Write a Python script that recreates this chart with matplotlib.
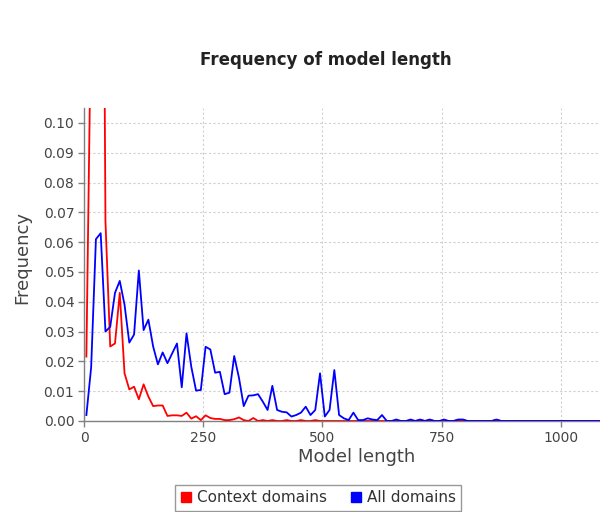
import numpy as np
import matplotlib
matplotlib.use("Agg")
import matplotlib.pyplot as plt
from matplotlib.lines import Line2D

# histogram bins of width 10, plotted at the bin centres
bin_width = 10
n_bins = 115

# frequency per bin, "Context domains"
context_freq = [
    0.0216, 0.14, 0.22, 0.33, 0.067, 0.025, 0.026, 0.043, 0.016, 0.0106,
    0.0115, 0.0073, 0.0123, 0.0082, 0.005, 0.0052, 0.0052, 0.0017, 0.0019, 0.0019,
    0.0017, 0.0028, 0.0008, 0.0016, 0.0003, 0.0019, 0.001, 0.0007, 0.0007, 0.0003,
    0.0003, 0.0006, 0.0012, 0.0003, 0.0, 0.001, 0.0, 0.0003, 0.0, 0.0003,
    0.0, 0.0, 0.0003, 0.0, 0.0, 0.0003, 0.0, 0.0, 0.0003, 0.0,
    0.0, 0.0, 0.0, 0.0, 0.0, 0.0, 0.0, 0.0, 0.0, 0.0,
    0.0, 0.0, 0.0, 0.0, 0.0, 0.0, 0.0, 0.0, 0.0, 0.0,
    0.0003, 0.0, 0.0003, 0.0, 0.0, 0.0, 0.0, 0.0, 0.0003, 0.0,
    0.0, 0.0, 0.0, 0.0, 0.0, 0.0, 0.0003,
]

# frequency per bin, "All domains"
all_freq = [
    0.002, 0.018, 0.061, 0.063, 0.030, 0.0316, 0.043, 0.047, 0.039, 0.0263,
    0.029, 0.0505, 0.0305, 0.034, 0.025, 0.019, 0.023, 0.0194, 0.0227, 0.026,
    0.0113, 0.0294, 0.0182, 0.0102, 0.0104, 0.0249, 0.024, 0.0162, 0.0165, 0.009,
    0.0095, 0.0218, 0.0145, 0.005, 0.0085, 0.0086, 0.009, 0.0065, 0.0037, 0.0118,
    0.0037, 0.0031, 0.0029, 0.0015, 0.002, 0.0028, 0.0048, 0.002, 0.0037, 0.016,
    0.0015, 0.0037, 0.0171, 0.002, 0.0009, 0.0003, 0.0028, 0.0003, 0.0003, 0.0009,
    0.0005, 0.0003, 0.002, 0.0, 0.0, 0.0005, 0.0, 0.0, 0.0005, 0.0,
    0.0005, 0.0, 0.0005, 0.0, 0.0, 0.0005, 0.0, 0.0, 0.0005, 0.0005,
    0.0, 0.0, 0.0, 0.0, 0.0, 0.0, 0.0005,
]

def padded(vals):
    out = np.zeros(n_bins)
    out[:len(vals)] = vals
    return out

x = bin_width * np.arange(n_bins) + bin_width / 2
context = padded(context_freq)
alldom = padded(all_freq)

red = "#ff0000"
blue = "#0000ff"
axis_grey = "#808080"
text_grey = "#444444"

fig = plt.figure(figsize=(6.0, 5.12), dpi=100)
# plot area runs a little past the right edge of the image
ax = fig.add_axes([84 / 600, 1 - 421 / 512, 545 / 600, (421 - 108) / 512])

ax.plot(x, context, color=red, lw=1.3, zorder=3)
ax.plot(x, alldom, color=blue, lw=1.3, zorder=4)

ax.set_xlim(0, 1143)
ax.set_ylim(0, 0.105)
ax.set_xticks([0, 250, 500, 750, 1000])
ax.set_yticks(np.arange(0, 0.1001, 0.01))
ax.set_yticklabels(["%.2f" % v for v in np.arange(0, 0.1001, 0.01)])

ax.grid(True, color="#d0d0d0", linestyle=(0, (2, 2)), linewidth=0.8)
ax.set_axisbelow(True)
for side in ("top", "right"):
    ax.spines[side].set_visible(False)
for side in ("left", "bottom"):
    ax.spines[side].set_color(axis_grey)
    ax.spines[side].set_linewidth(1.0)
ax.tick_params(colors=axis_grey, labelcolor=text_grey, length=4, width=1.0,
               labelsize=10, pad=3)

ax.set_xlabel("Model length", fontsize=13, color=text_grey, labelpad=2)
fig.text(22 / 600, 1 - 258 / 512, "Frequency", rotation=90, fontsize=13,
         color=text_grey, ha="center", va="center")

fig.text(326 / 600, 1 - 60 / 512, "Frequency of model length", fontsize=12,
         fontweight="bold", color="#222222", ha="center", va="center")

handles = [
    Line2D([], [], linestyle="none", marker="s", markersize=7.5,
           markerfacecolor=red, markeredgecolor=red),
    Line2D([], [], linestyle="none", marker="s", markersize=7.5,
           markerfacecolor=blue, markeredgecolor=blue),
]
leg = fig.legend(handles, ["Context domains", "All domains"], ncol=2,
                 loc="center", bbox_to_anchor=(318 / 600, 1 - 498 / 512),
                 fontsize=11, frameon=True, fancybox=False,
                 handlelength=0.8, handletextpad=0.3, columnspacing=1.5,
                 borderpad=0.35, borderaxespad=0)
leg.get_frame().set_edgecolor(axis_grey)
leg.get_frame().set_linewidth(1.0)
for t in leg.get_texts():
    t.set_color("#333333")

fig.savefig("out.png", dpi=100)
